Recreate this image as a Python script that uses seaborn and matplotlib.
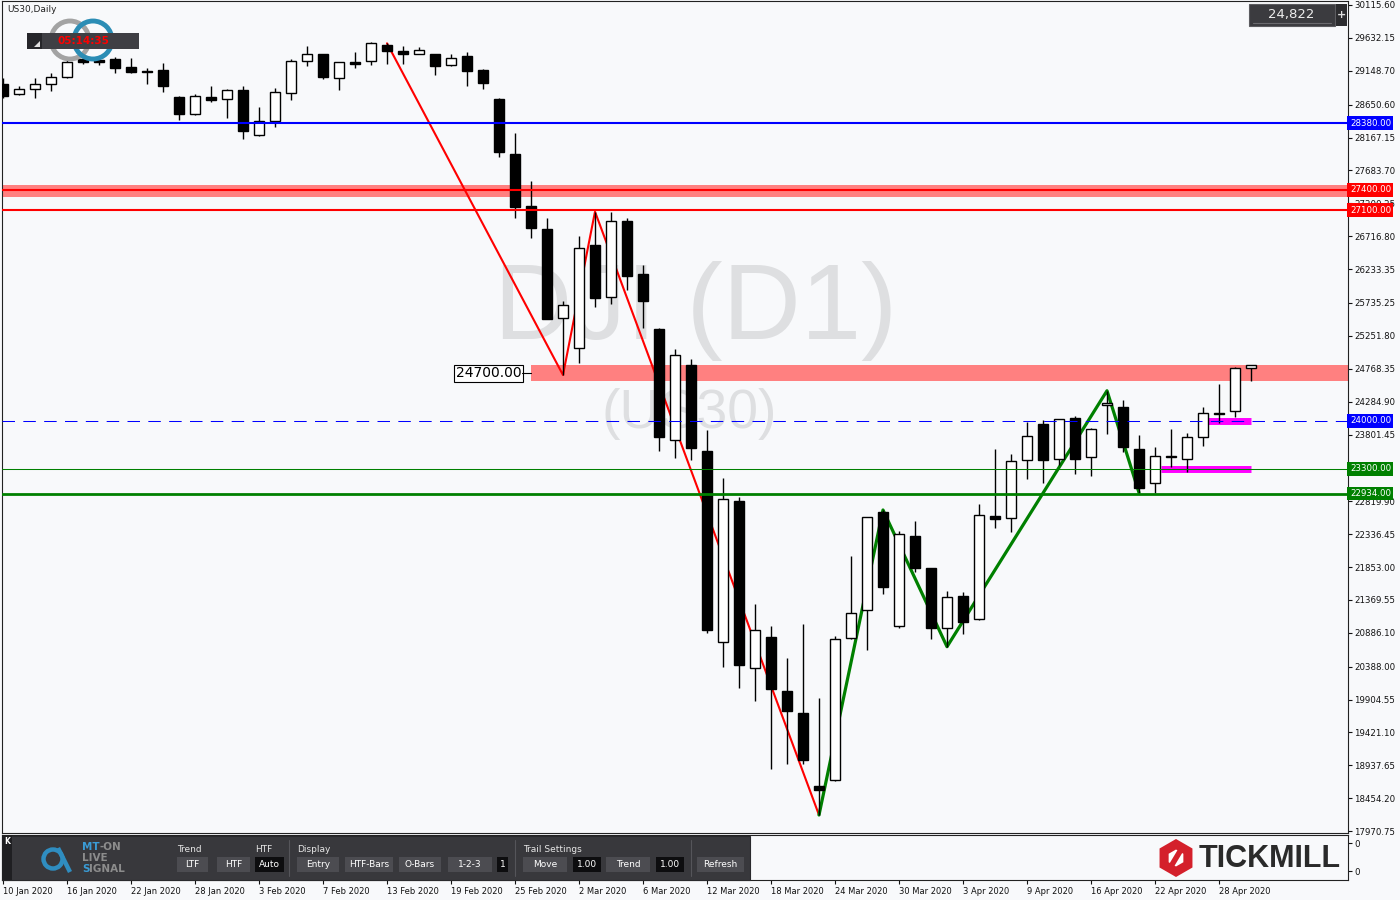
import numpy as np
import pandas as pd
import matplotlib
matplotlib.use('Agg')
import matplotlib.pyplot as plt
import matplotlib.transforms as mtransforms
from matplotlib.patches import Rectangle, Circle, RegularPolygon, Polygon
import seaborn as sns

sns.set_theme(style='white')
plt.rcParams['font.family'] = ['DejaVu Sans']
plt.rcParams['axes.unicode_minus'] = False

BG = '#f8f9fb'

# ---- daily bars US30, 10 Jan - 30 Apr 2020 ----
bar_open = [28954, 28803, 28885, 28950, 29052, 29321, 29307, 29317, 29204, 29149,
            29160, 28763, 28508, 28758, 28738, 28866, 28200, 28406, 28817, 29288,
            29390, 29038, 29277, 29288, 29532, 29439, 29395, 29395, 29229, 29366,
            29160, 28733, 27925, 27160, 26818, 25510, 25069, 26587, 25818, 26940,
            26161, 25352, 23716, 24823, 23559, 20756, 22824, 20373, 20825, 20031,
            19708, 18634, 18727, 20806, 21217, 22662, 20991, 22309, 21835, 20962,
            21428, 21085, 22603, 22570, 23422, 23956, 23437, 24040, 23466, 24231,
            24206, 23588, 23093, 23466, 23437, 23760, 24118, 24143, 24775]
bar_high = [29042, 28925, 29038, 29111, 29336, 29366, 29351, 29351, 29332, 29189,
            29258, 28778, 28803, 28925, 28880, 28925, 28616, 28891, 29321, 29512,
            29395, 29278, 29424, 29567, 29552, 29512, 29502, 29400, 29395, 29424,
            29170, 28744, 28229, 27528, 26989, 25764, 26720, 27077, 27077, 26989,
            26293, 25360, 25058, 24907, 23868, 23167, 22878, 21310, 20986, 20516,
            21016, 19932, 20840, 22015, 22590, 22692, 22383, 22530, 21840, 21501,
            21491, 22775, 23588, 23515, 23990, 24015, 24030, 24073, 23893, 24445,
            24309, 23794, 23622, 23882, 23828, 24210, 24544, 24798, 24825]
bar_low = [28748, 28792, 28753, 28851, 29042, 29248, 29233, 29120, 29111, 28950,
           28832, 28429, 28494, 28685, 28459, 28150, 28195, 28322, 28719, 29223,
           29027, 28866, 29194, 29238, 29244, 29252, 29390, 29091, 29225, 28929,
           28876, 27885, 26980, 26695, 25500, 24676, 24857, 25680, 25716, 25926,
           25363, 23563, 23452, 23427, 20888, 20388, 20080, 19884, 18884, 18958,
           18954, 18208, 18712, 20800, 20634, 21452, 20953, 21785, 20791, 20682,
           20864, 21080, 22423, 22364, 23143, 23084, 23353, 23216, 23191, 23809,
           23549, 22946, 22937, 23328, 23255, 23637, 23975, 24063, 24592]
bar_close = [28778, 28876, 28950, 29052, 29282, 29277, 29277, 29194, 29126, 29123,
             28929, 28517, 28773, 28723, 28866, 28267, 28410, 28832, 29288, 29390,
             29061, 29273, 29252, 29557, 29443, 29390, 29454, 29223, 29336, 29149,
             28973, 27959, 27150, 26842, 25504, 25701, 26539, 25813, 26940, 26136,
             25768, 23769, 24970, 23599, 20928, 22853, 20413, 20928, 20065, 19741,
             19021, 18580, 20795, 21173, 22584, 21564, 22334, 21843, 20953, 21408,
             21050, 22614, 22555, 23412, 23775, 23422, 24025, 23446, 23878, 24260,
             23622, 23020, 23486, 23470, 23760, 24113, 24098, 24775, 24822]

date_tick_bars = [0, 4, 8, 12, 16, 20, 24, 28, 32, 36, 40, 44, 48, 52, 56, 60, 64, 68, 72, 76]
date_tick_labels = ['10 Jan 2020', '16 Jan 2020', '22 Jan 2020', '28 Jan 2020', '3 Feb 2020',
                    '7 Feb 2020', '13 Feb 2020', '19 Feb 2020', '25 Feb 2020', '2 Mar 2020',
                    '6 Mar 2020', '12 Mar 2020', '18 Mar 2020', '24 Mar 2020', '30 Mar 2020',
                    '3 Apr 2020', '9 Apr 2020', '16 Apr 2020', '22 Apr 2020', '28 Apr 2020']

price_ticks = [30115.60, 29632.15, 29148.70, 28650.60, 28167.15, 27683.70, 27200.25,
               26716.80, 26233.35, 25735.25, 25251.80, 24768.35, 24284.90, 23801.45,
               22819.90, 22336.45, 21853.00, 21369.55, 20886.10, 20388.00,
               19904.55, 19421.10, 18937.65, 18454.20, 17970.75]

# horizontal levels: value, colour, width(pt), style
level_values = [28380, 27400, 27100, 24000, 23300, 22934]
level_colors = ['#0000ff', '#ff0000', '#ff0000', '#0000ff', '#008000', '#008000']
level_widths = [1.5, 1.5, 1.5, 0.75, 0.75, 2.0]
level_styles = ['-', '-', '-', (0, (12, 8)), '-', '-']

zone_27400 = (27295, 27470)
zone_24700 = (24590, 24820)
zone_24700_start = 33

magenta_levels = [24000, 23300]
magenta_start = [75.3, 72.4]
magenta_end = 78

red_pivot_bars = [24, 35, 37, 51]
red_pivot_kind = ['high', 'low', 'high', 'low']
green_pivot_bars = [51, 55, 59, 69, 71]
green_pivot_kind = ['low', 'high', 'low', 'high', 'low']

last_price = '24,822'
toolbar_headers = [('Trend', 177), ('HTF', 255), ('Display', 297), ('Trail Settings', 523)]
toolbar_buttons = [('LTF', 177, 208, False), ('HTF', 217, 250, False), ('Auto', 255, 284, True),
                   ('Entry', 297, 339, False), ('HTF-Bars', 345, 393, False),
                   ('O-Bars', 399, 441, False), ('1-2-3', 448, 492, False), ('1', 497, 508, True),
                   ('Move', 523, 567, False), ('1.00', 573, 601, True), ('Trend', 606, 650, False),
                   ('1.00', 656, 684, True), ('Refresh', 697, 744, False)]

df = pd.DataFrame({'open': bar_open, 'high': bar_high, 'low': bar_low, 'close': bar_close})
df['bar'] = np.arange(len(df))
df['bull'] = df['close'] >= df['open']

W, H = 1400, 900
fig = plt.figure(figsize=(14, 9), dpi=100, facecolor=BG)
ax = fig.add_axes([2 / W, 67 / H, 1346 / W, 832 / H], facecolor=BG)
sub = fig.add_axes([2 / W, 20 / H, 1346 / W, 45 / H], facecolor=BG)

xlim = (-0.0625, 84.0625)
ax.set_xlim(xlim)
ax.set_ylim(17943.6, 30174)

# watermark
ax.text(43.3, 25200, 'DJI (D1)', fontsize=78, color='#dedfe1', ha='center', va='baseline',
        family=['Liberation Sans', 'DejaVu Sans'], zorder=0.5)
ax.text(42.9, 23890, '(US30)', fontsize=40, color='#dedfe1', ha='center', va='baseline',
        family=['Liberation Sans', 'DejaVu Sans'], zorder=0.5)

# zones
ax.axhspan(*zone_27400, color='#ff8080', lw=0, zorder=1)
ax.fill_between([zone_24700_start, xlim[1]], zone_24700[0], zone_24700[1],
                color='#ff8080', lw=0, zorder=1)
ax.text(32.4, 24700, '24700.00', fontsize=10, ha='right', va='center', color='black',
        bbox=dict(boxstyle='square,pad=0.12', fc='white', ec='black', lw=0.8), zorder=6)
ax.plot([32.45, zone_24700_start], [24700, 24700], color='black', lw=0.8, zorder=6)

for lvl, x0 in zip(magenta_levels, magenta_start):
    ax.plot([x0, magenta_end], [lvl, lvl], color='#ff00ff', lw=5, solid_capstyle='butt', zorder=2)

# zigzags (behind the candles)
red_y = [df.loc[b, k] for b, k in zip(red_pivot_bars, red_pivot_kind)]
green_y = [df.loc[b, k] for b, k in zip(green_pivot_bars, green_pivot_kind)]
sns.lineplot(x=red_pivot_bars, y=red_y, color='#ff0000', lw=1.5, ax=ax, zorder=2, legend=False)
sns.lineplot(x=green_pivot_bars, y=green_y, color='#008000', lw=2.3, ax=ax, zorder=2, legend=False)

# candles
ax.vlines(df['bar'], df['low'], df['high'], colors='black', lw=1, zorder=3)
body_lo = df[['open', 'close']].min(axis=1)
body_h = (df['close'] - df['open']).abs().clip(lower=14)
ax.bar(df['bar'], body_h, bottom=body_lo, width=0.62,
       color=np.where(df['bull'], 'white', 'black'), edgecolor='black', lw=1, zorder=4)

# level lines
for v, c, w, s in zip(level_values, level_colors, level_widths, level_styles):
    ax.axhline(v, color=c, lw=w, ls=s, zorder=5)

# right price tags
blend = mtransforms.blended_transform_factory(ax.transAxes, ax.transData)
for v, c in zip(level_values, level_colors):
    ax.text(1.0014, v, f'{v:.2f}', transform=blend, ha='left', va='center', fontsize=6.2,
            color='white', bbox=dict(boxstyle='square,pad=0.28', fc=c, ec='none'),
            zorder=20, clip_on=False)

ax.set_xticks([])
ax.set_yticks(price_ticks)
ax.set_yticklabels([f'{p:.2f}' for p in price_ticks])
ax.tick_params(axis='y', left=False, right=True, labelleft=False, labelright=True,
               direction='out', length=3, width=0.8, labelsize=6.2, pad=1.5, colors='#111111')
ax.grid(False)
for sp in ax.spines.values():
    sp.set_color('#222222')
    sp.set_linewidth(0.8)

# indicator sub window with the date axis
sub.set_xlim(xlim)
sub.set_ylim(-0.32, 1.29)
sub.set_xticks(date_tick_bars)
sub.set_xticklabels(date_tick_labels, ha='left')
sub.set_yticks([0, 1])
sub.set_yticklabels(['0', '0'])
sub.tick_params(axis='x', bottom=True, direction='out', length=3, width=0.8,
                labelsize=6, pad=2, colors='#111111')
sub.tick_params(axis='y', left=False, right=True, labelleft=False, labelright=True,
                direction='out', length=3, width=0.8, labelsize=6.2, pad=1.5, colors='#111111')
sub.grid(False)
for sp in sub.spines.values():
    sp.set_color('#222222')
    sp.set_linewidth(0.8)

# ---- overlay decorations in pixel coordinates ----
ov = fig.add_axes([0, 0, 1, 1], zorder=10)
ov.set_xlim(0, W)
ov.set_ylim(H, 0)
ov.axis('off')
ov.patch.set_alpha(0)

ov.text(7, 10, 'US30,Daily', fontsize=6.5, color='#222222', ha='left', va='center')
ov.add_patch(Circle((70, 40), 19, fill=False, ec='#a3a3a3', lw=3.5))
ov.add_patch(Circle((93, 40), 19, fill=False, ec='#2b8db5', lw=3.5))
ov.add_patch(Rectangle((27, 33), 112, 16, fc='#3f3f44', ec='none'))
ov.add_patch(Rectangle((27, 33), 15, 16, fc='#26262a', ec='none'))
ov.add_patch(Polygon([[34, 47], [40, 47], [40, 41]], closed=True, fc='#e0e0e0', ec='none'))
ov.text(83, 41.5, '05:14:35', fontsize=7.5, fontweight='bold', color='#ff0000',
        ha='center', va='center')

ov.add_patch(Rectangle((1249, 4), 86, 22, fc='#3b3b3f', ec='#5c5c60', lw=0.8))
ov.plot([1253, 1331], [23, 23], color='#6a6a6e', lw=0.8)
ov.text(1291, 14.5, last_price, fontsize=9.5, color='#eeeeee', ha='center', va='center')
ov.add_patch(Rectangle((1336, 4), 11, 22, fc='#2c2c2f', ec='none'))
ov.text(1341.5, 14.5, '+', fontsize=8, fontweight='bold', color='#dddddd', ha='center', va='center')

# toolbar
ov.add_patch(Rectangle((2, 836), 748, 44, fc='#38383c', ec='#2a2a2d', lw=0.8))
ov.add_patch(Rectangle((2, 836), 10, 44, fc='#1f1f22', ec='none'))
ov.text(7, 842, 'K', fontsize=5.5, fontweight='bold', color='white', ha='center', va='center')
ov.add_patch(Circle((53, 859), 9.5, fill=False, ec='#2f8dc0', lw=3.2))
ov.plot([58, 70], [848, 872], color='#2f8dc0', lw=3.2, solid_capstyle='butt')
ov.text(82, 847, 'MT', fontsize=7.5, fontweight='bold', color='#3a9bd5', ha='left', va='center')
ov.text(99, 847, '-ON', fontsize=7.5, fontweight='bold', color='#8c8c8c', ha='left', va='center')
ov.text(82, 858, 'LIVE', fontsize=7.5, fontweight='bold', color='#8c8c8c', ha='left', va='center')
ov.text(82, 869, 'S', fontsize=7.5, fontweight='bold', color='#3a9bd5', ha='left', va='center')
ov.text(89, 869, 'IGNAL', fontsize=7.5, fontweight='bold', color='#8c8c8c', ha='left', va='center')
for lab, x in toolbar_headers:
    ov.text(x, 849, lab, fontsize=6.5, color='#e6e6e6', ha='left', va='center')
for lab, x0, x1, dark in toolbar_buttons:
    ov.add_patch(Rectangle((x0, 857), x1 - x0, 15, fc='#0d0d0f' if dark else '#4c4c51', ec='none'))
    ov.text((x0 + x1) / 2, 864.5, lab, fontsize=6.5, color='white', ha='center', va='center')
for x in [289, 515, 691]:
    ov.plot([x, x], [840, 876], color='#55555a', lw=0.8)

# Tickmill logo
ov.add_patch(RegularPolygon((1176, 858), numVertices=6, radius=19, orientation=0,
                            fc='#d4202b', ec='none'))
ov.add_patch(RegularPolygon((1176, 858), numVertices=6, radius=8.5, orientation=0,
                            fc='white', ec='none'))
ov.add_patch(Polygon([[1168, 866], [1172, 870], [1184, 850], [1180, 846]], closed=True,
                     fc='#d4202b', ec='none'))
ov.text(1199, 859, 'TICKMILL', fontsize=22, fontweight='bold', color='#2a2a2a',
        family=['Liberation Sans', 'DejaVu Sans'], ha='left', va='center')

fig.savefig('out.png', dpi=100, facecolor=BG)
